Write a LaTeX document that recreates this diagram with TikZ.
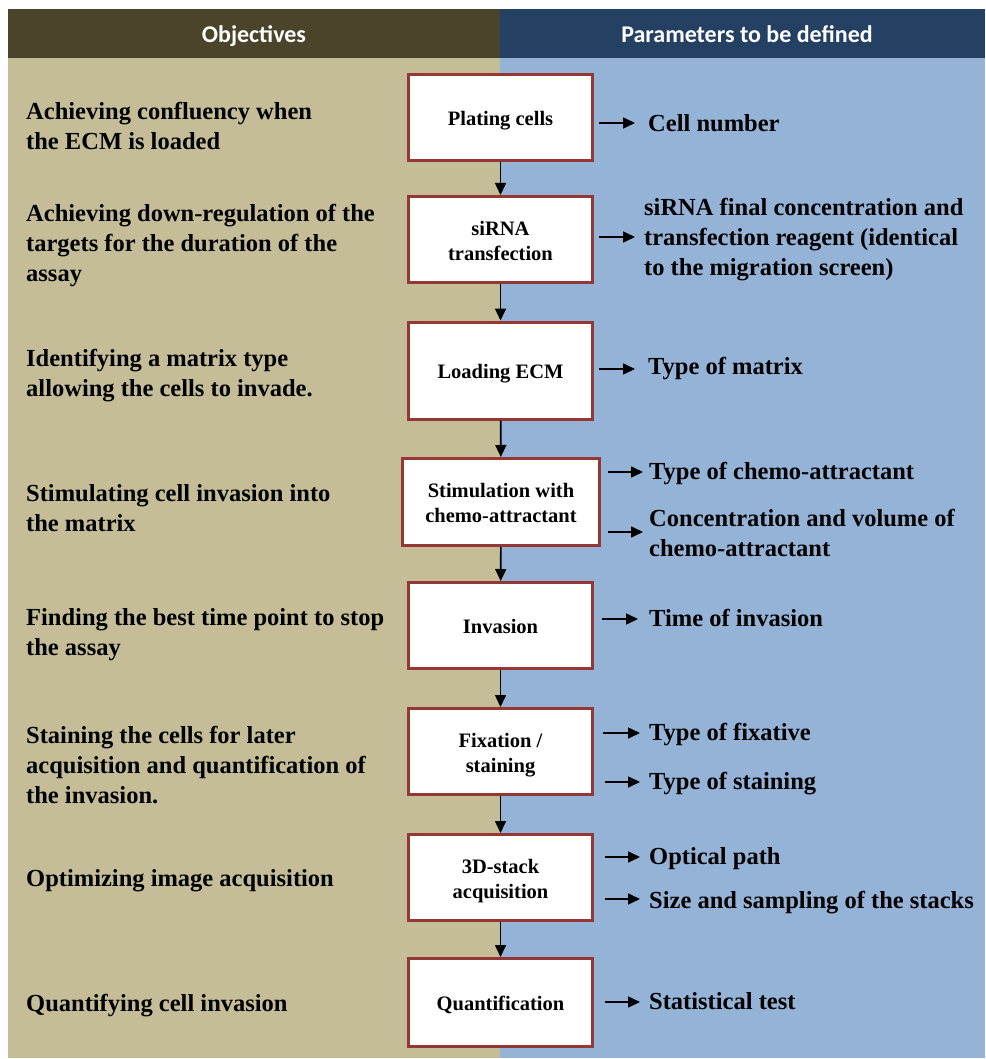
\documentclass[tikz,border=0pt]{standalone}
\usepackage{fontspec}
\setmainfont{Liberation Serif}
\newfontfamily\hdrfont{Carlito}
\usetikzlibrary{arrows.meta}
\definecolor{hdrL}{HTML}{4A452A}
\definecolor{hdrR}{HTML}{244062}
\definecolor{tanbg}{HTML}{C4BD97}
\definecolor{bluebg}{HTML}{95B3D7}
\definecolor{boxred}{HTML}{953735}
\tikzset{
  stepbox/.style={draw=boxred, line width=3pt, fill=white, minimum width=184pt, minimum height=86pt, inner sep=0pt},
  boxtxt/.style={align=center, inner sep=0pt, font=\bfseries\fontsize{20.5}{25}\selectfont},
  lefttxt/.style={anchor=west, align=left, inner sep=0pt, font=\bfseries\fontsize{24.5}{30}\selectfont},
  righttxt/.style={anchor=west, align=left, inner sep=0pt, font=\bfseries\fontsize{24.5}{30}\selectfont},
  hdrtxt/.style={text=white, inner sep=0pt, text height=17pt, text depth=5pt, font=\hdrfont\bfseries\fontsize{24}{28}\selectfont},
  arr/.style={line width=1.6pt, -{Triangle[length=12pt,width=11pt]}},
}
\begin{document}
\begin{tikzpicture}[x=1pt,y=-1pt]
\useasboundingbox (0,0) rectangle (985,1059);
% backgrounds
\fill[tanbg] (8,58) rectangle (500,1058);
\fill[bluebg] (500,58) rectangle (985,1058);
\fill[hdrL] (8,9) rectangle (500,58);
\fill[hdrR] (500,9) rectangle (985,58);
\node[hdrtxt] (h1) at (254,37) {Objectives};
\node[hdrtxt] (h2) at (747,37) {Parameters to be defined};

% step boxes
\node[stepbox] (b1) at (500.5,117.5) {};
\node[stepbox] (b2) at (500.5,239.5) {};
\node[stepbox, minimum height=97pt] (b3) at (500.5,370.5) {};
\node[stepbox, minimum width=197pt, minimum height=87pt] (b4) at (501,502) {};
\node[stepbox] (b5) at (500.5,625.5) {};
\node[stepbox] (b6) at (500.5,751.5) {};
\node[stepbox] (b7) at (500.5,877.5) {};
\node[stepbox, minimum height=88pt] (b8) at (500.5,1002.5) {};

\node[boxtxt] (t1) at ([yshift=-3pt]b1.center) {Plating cells};
\node[boxtxt] (t2) at ([yshift=-1.5pt]b2.center) {siRNA\\transfection};
\node[boxtxt] (t3) at ([yshift=-3pt]b3.center) {Loading ECM};
\node[boxtxt] (t4) at ([yshift=-1pt]b4.center) {Stimulation with\\chemo-attractant};
\node[boxtxt] (t5) at ([yshift=-0.5pt]b5.center) {Invasion};
\node[boxtxt] (t6) at ([yshift=-3.5pt]b6.center) {Fixation /\\staining};
\node[boxtxt] (t7) at ([yshift=-4pt]b7.center) {3D-stack\\acquisition};
\node[boxtxt] (t8) at ([yshift=-2.5pt]b8.center) {Quantification};

\foreach \a/\b in {b1/b2,b2/b3,b3/b4,b4/b5,b5/b6,b6/b7,b7/b8}
  \draw[arr] (\a) -- (\b);

% objectives
\node[lefttxt] (o1) at (26,126) {Achieving confluency when\\the ECM is loaded};
\node[lefttxt] (o2) at (26,246) {Achieving down-regulation of the\\targets for the duration of the\\assay};
\node[lefttxt] (o3) at (26,376) {Identifying a matrix type\\allowing the cells to invade.};
\node[lefttxt] (o4) at (26,508) {Stimulating cell invasion into\\the matrix};
\node[lefttxt] (o5) at (26,635) {Finding the best time point to stop\\the assay};
\node[lefttxt] (o6) at (26,765) {Staining the cells for later\\acquisition and quantification of\\the invasion.};
\node[lefttxt] (o7) at (26,881) {Optimizing image acquisition};
\node[lefttxt] (o8) at (26,1006) {Quantifying cell invasion};

% parameters
\node[righttxt] (p1) at (648,123) {Cell number};
\node[righttxt] (p2) at (644,240) {siRNA final concentration and\\transfection reagent (identical\\to the migration screen)};
\node[righttxt] (p3) at (648,369) {Type of matrix};
\node[righttxt] (p4a) at (649,474) {Type of chemo-attractant};
\node[righttxt] (p4b) at (649,533) {Concentration and volume of\\chemo-attractant};
\node[righttxt] (p5) at (649,618) {Time of invasion};
\node[righttxt] (p6a) at (649,735) {Type of fixative};
\node[righttxt] (p6b) at (649,784) {Type of staining};
\node[righttxt] (p7a) at (649,859) {Optical path};
\node[righttxt] (p7b) at (649,903) {Size and sampling of the stacks};
\node[righttxt] (p8) at (649,1001) {Statistical test};

% arrow ends
\coordinate (a1) at (635,123);
\coordinate (a2) at (635,237);
\coordinate (a3) at (635,369);
\coordinate (a4a) at (643,472);
\coordinate (a4b) at (643,532);
\coordinate (a5) at (638,619);
\coordinate (a6a) at (640,733);
\coordinate (a6b) at (640,782);
\coordinate (a7a) at (640,857);
\coordinate (a7b) at (640,899);
\coordinate (a8) at (640,1002);

\draw[arr, shorten <=5pt] (b1.east |- a1) -- (a1);
\draw[arr, shorten <=5pt] (b2.east |- a2) -- (a2);
\draw[arr, shorten <=5pt] (b3.east |- a3) -- (a3);
\draw[arr, shorten <=7pt] (b4.east |- a4a) -- (a4a);
\draw[arr, shorten <=7pt] (b4.east |- a4b) -- (a4b);
\draw[arr, shorten <=8pt] (b5.east |- a5) -- (a5);
\draw[arr, shorten <=9pt] (b6.east |- a6a) -- (a6a);
\draw[arr, shorten <=11pt] (b6.east |- a6b) -- (a6b);
\draw[arr, shorten <=11pt] (b7.east |- a7a) -- (a7a);
\draw[arr, shorten <=11pt] (b7.east |- a7b) -- (a7b);
\draw[arr, shorten <=11pt] (b8.east |- a8) -- (a8);
\end{tikzpicture}
\end{document}
